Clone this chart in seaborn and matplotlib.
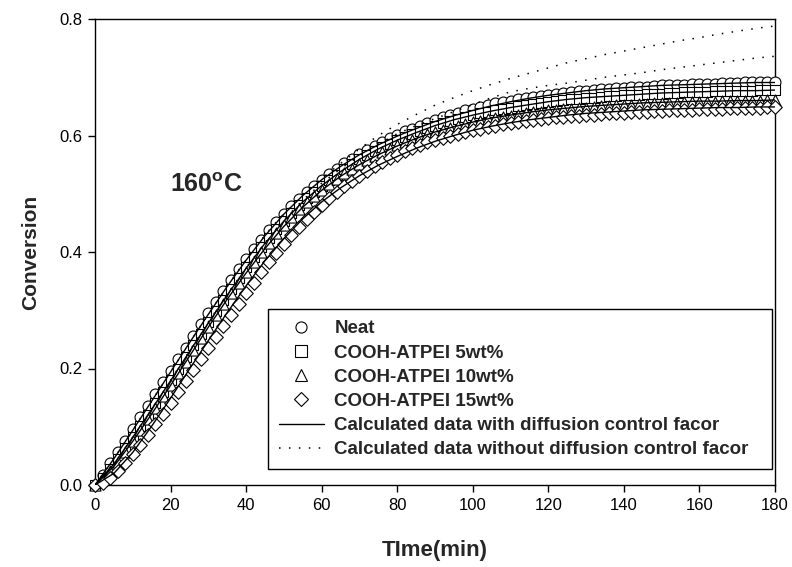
import numpy as np
import pandas as pd
import matplotlib
matplotlib.use("Agg")
import matplotlib.pyplot as plt
import seaborn as sns
from matplotlib.lines import Line2D

# ---------------- data ----------------
time_pts = list(range(0, 181, 2))
neat = [0.000, 0.018, 0.037, 0.056, 0.076, 0.096, 0.116, 0.136, 0.156, 0.176,
        0.196, 0.216, 0.236, 0.256, 0.276, 0.295, 0.314, 0.333, 0.352, 0.370,
        0.388, 0.405, 0.421, 0.437, 0.452, 0.466, 0.479, 0.491, 0.503, 0.514,
        0.524, 0.534, 0.543, 0.552, 0.560, 0.568, 0.575, 0.582, 0.589, 0.595,
        0.601, 0.607, 0.612, 0.617, 0.622, 0.627, 0.631, 0.635, 0.639, 0.643,
        0.646, 0.649, 0.652, 0.655, 0.658, 0.660, 0.662, 0.664, 0.666, 0.668,
        0.670, 0.672, 0.673, 0.675, 0.676, 0.677, 0.678, 0.679, 0.680, 0.681,
        0.682, 0.683, 0.684, 0.684, 0.685, 0.686, 0.686, 0.687, 0.687, 0.688,
        0.688, 0.689, 0.689, 0.690, 0.690, 0.690, 0.691, 0.691, 0.691, 0.692,
        0.692]
wt5 = [0.000, 0.012, 0.028, 0.045, 0.063, 0.082, 0.101, 0.120, 0.140, 0.160,
       0.180, 0.200, 0.220, 0.240, 0.260, 0.280, 0.299, 0.318, 0.337, 0.356,
       0.374, 0.391, 0.408, 0.424, 0.439, 0.454, 0.467, 0.480, 0.492, 0.503,
       0.514, 0.524, 0.533, 0.542, 0.551, 0.559, 0.566, 0.573, 0.580, 0.586,
       0.592, 0.598, 0.603, 0.608, 0.613, 0.617, 0.621, 0.625, 0.629, 0.632,
       0.635, 0.638, 0.641, 0.644, 0.646, 0.648, 0.650, 0.652, 0.654, 0.656,
       0.658, 0.659, 0.661, 0.662, 0.663, 0.664, 0.665, 0.666, 0.667, 0.668,
       0.669, 0.670, 0.670, 0.671, 0.672, 0.672, 0.673, 0.673, 0.674, 0.674,
       0.675, 0.675, 0.676, 0.676, 0.676, 0.677, 0.677, 0.677, 0.678, 0.678,
       0.678]
wt10 = [0.000, 0.010, 0.024, 0.040, 0.057, 0.075, 0.094, 0.113, 0.132, 0.152,
        0.172, 0.192, 0.212, 0.232, 0.252, 0.272, 0.291, 0.310, 0.329, 0.347,
        0.365, 0.383, 0.400, 0.416, 0.432, 0.446, 0.460, 0.473, 0.485, 0.496,
        0.507, 0.517, 0.526, 0.535, 0.543, 0.551, 0.558, 0.565, 0.571, 0.577,
        0.583, 0.588, 0.593, 0.598, 0.602, 0.606, 0.610, 0.613, 0.617, 0.620,
        0.623, 0.625, 0.628, 0.630, 0.632, 0.634, 0.636, 0.638, 0.640, 0.641,
        0.643, 0.644, 0.645, 0.646, 0.647, 0.648, 0.649, 0.650, 0.651, 0.652,
        0.652, 0.653, 0.654, 0.654, 0.655, 0.655, 0.656, 0.656, 0.657, 0.657,
        0.658, 0.658, 0.658, 0.659, 0.659, 0.659, 0.660, 0.660, 0.660, 0.661,
        0.661]
wt15 = [0.000, 0.004, 0.012, 0.024, 0.038, 0.053, 0.069, 0.086, 0.104, 0.122,
        0.140, 0.159, 0.178, 0.197, 0.216, 0.235, 0.254, 0.273, 0.292, 0.311,
        0.329, 0.347, 0.365, 0.382, 0.398, 0.414, 0.429, 0.443, 0.456, 0.469,
        0.481, 0.492, 0.503, 0.513, 0.522, 0.531, 0.539, 0.547, 0.554, 0.561,
        0.567, 0.573, 0.578, 0.583, 0.588, 0.592, 0.596, 0.600, 0.603, 0.606,
        0.609, 0.612, 0.615, 0.617, 0.619, 0.621, 0.623, 0.625, 0.627, 0.628,
        0.630, 0.631, 0.632, 0.633, 0.634, 0.635, 0.636, 0.637, 0.638, 0.639,
        0.639, 0.640, 0.641, 0.641, 0.642, 0.642, 0.643, 0.643, 0.644, 0.644,
        0.645, 0.645, 0.646, 0.646, 0.647, 0.647, 0.647, 0.648, 0.648, 0.649,
        0.649]

time_fit = list(range(0, 181, 5))
fit_neat = [0.000, 0.045, 0.094, 0.144, 0.194, 0.244, 0.293, 0.341, 0.386, 0.428,
            0.465, 0.497, 0.524, 0.547, 0.567, 0.584, 0.599, 0.612, 0.624, 0.634,
            0.643, 0.651, 0.658, 0.664, 0.669, 0.673, 0.677, 0.680, 0.682, 0.684,
            0.686, 0.687, 0.688, 0.689, 0.690, 0.691, 0.691]
fit_wt5 = [0.000, 0.036, 0.082, 0.130, 0.179, 0.229, 0.278, 0.326, 0.372, 0.415,
           0.453, 0.486, 0.514, 0.538, 0.559, 0.577, 0.592, 0.605, 0.617, 0.627,
           0.635, 0.642, 0.648, 0.653, 0.658, 0.662, 0.665, 0.667, 0.669, 0.671,
           0.673, 0.674, 0.675, 0.676, 0.677, 0.677, 0.678]
fit_wt10 = [0.000, 0.032, 0.075, 0.122, 0.171, 0.221, 0.271, 0.319, 0.364, 0.406,
            0.444, 0.477, 0.506, 0.530, 0.550, 0.567, 0.582, 0.595, 0.606, 0.615,
            0.623, 0.630, 0.635, 0.640, 0.644, 0.647, 0.650, 0.652, 0.654, 0.656,
            0.657, 0.658, 0.659, 0.659, 0.660, 0.660, 0.661]
fit_wt15 = [0.000, 0.020, 0.056, 0.101, 0.149, 0.199, 0.248, 0.296, 0.342, 0.385,
            0.423, 0.457, 0.486, 0.510, 0.531, 0.549, 0.564, 0.578, 0.590, 0.600,
            0.609, 0.616, 0.622, 0.627, 0.631, 0.635, 0.638, 0.640, 0.642, 0.644,
            0.645, 0.646, 0.647, 0.648, 0.648, 0.649, 0.649]
nodiff_a = [0.000, 0.045, 0.094, 0.144, 0.194, 0.244, 0.293, 0.341, 0.387, 0.429,
            0.466, 0.498, 0.526, 0.552, 0.577, 0.600, 0.619, 0.636, 0.652, 0.665,
            0.677, 0.688, 0.698, 0.707, 0.716, 0.725, 0.732, 0.739, 0.745, 0.751,
            0.757, 0.763, 0.768, 0.774, 0.779, 0.784, 0.788]
nodiff_b = [0.000, 0.036, 0.082, 0.130, 0.180, 0.230, 0.280, 0.327, 0.373, 0.416,
            0.455, 0.489, 0.518, 0.543, 0.565, 0.585, 0.603, 0.617, 0.629, 0.641,
            0.653, 0.665, 0.675, 0.681, 0.686, 0.690, 0.695, 0.700, 0.704, 0.708,
            0.713, 0.717, 0.721, 0.725, 0.729, 0.733, 0.736]

series_labels = ["Neat", "COOH-ATPEI 5wt%", "COOH-ATPEI 10wt%", "COOH-ATPEI 15wt%"]
line_labels = ["Calculated data with diffusion control facor",
               "Calculated data without diffusion control facor"]
x_ticks = [0, 20, 40, 60, 80, 100, 120, 140, 160, 180]
y_ticks = [0.0, 0.2, 0.4, 0.6, 0.8]
temp_label = r"$\mathbf{160^{o}C}$"

# ---------------- style ----------------
sns.set_style("ticks")
plt.rcParams["font.family"] = ["Liberation Sans", "DejaVu Sans"]
plt.rcParams["mathtext.fontset"] = "custom"
plt.rcParams["mathtext.bf"] = "Liberation Sans:bold"
plt.rcParams["mathtext.rm"] = "Liberation Sans"

fig = plt.figure(figsize=(7.92, 5.67), dpi=100)
ax = fig.add_axes([95 / 792, 1 - 485 / 567, 680 / 792, 466 / 567])

dot_style = (0, (1, 5.5))
markers = ["o", "s", "^", "D"]
sizes = [62, 55, 64, 48]
for vals, mk, sz in zip([neat, wt5, wt10, wt15], markers, sizes):
    df = pd.DataFrame({"t": time_pts, "c": vals})
    sns.scatterplot(data=df, x="t", y="c", marker=mk, s=sz, facecolor="white",
                    edgecolor="black", linewidth=0.8, ax=ax, zorder=3,
                    clip_on=False)

for vals in [fit_neat, fit_wt5, fit_wt10, fit_wt15]:
    df = pd.DataFrame({"t": time_fit, "c": vals})
    sns.lineplot(data=df, x="t", y="c", color="black", linewidth=1.0,
                 estimator=None, ax=ax, zorder=4)
for vals in [nodiff_a, nodiff_b]:
    df = pd.DataFrame({"t": time_fit, "c": vals})
    sns.lineplot(data=df, x="t", y="c", color="black", linewidth=1.1,
                 linestyle=dot_style, estimator=None, ax=ax, zorder=4)

ax.set_xlim(0, 180)
ax.set_ylim(0, 0.8)
ax.set_xticks(x_ticks)
ax.set_yticks(y_ticks)
ax.set_yticklabels([f"{v:.1f}" for v in y_ticks])
ax.tick_params(direction="out", length=5, width=1, labelsize=12, colors="black",
               pad=4)
for sp in ax.spines.values():
    sp.set_visible(True)
    sp.set_linewidth(1.0)
    sp.set_color("black")

ax.set_xlabel("TIme(min)", fontsize=16, fontweight="bold")
ax.set_ylabel("Conversion", fontsize=15, fontweight="bold")
ax.xaxis.set_label_coords(0.5, -0.118)
ax.yaxis.set_label_coords(-0.08, 0.5)

ax.text(19.8, 0.503, temp_label, fontsize=18, ha="left", va="baseline")

handles = [Line2D([], [], linestyle="none", marker=m, markersize=8,
                  markerfacecolor="white", markeredgecolor="black",
                  markeredgewidth=0.8)
           for m in ["o", "s", "^", "D"]]
handles[3].set_markersize(7)
handles += [Line2D([], [], color="black", linewidth=1.0),
            Line2D([], [], color="black", linewidth=1.1, linestyle=dot_style)]
leg = ax.legend(handles, series_labels + line_labels, loc="upper left",
                bbox_to_anchor=(0.254, 0.0, 0.742, 0.3777), mode="expand",
                frameon=True, fancybox=False,
                edgecolor="black", framealpha=1, borderaxespad=0,
                handlelength=2.4, handletextpad=0.55, labelspacing=0.376,
                borderpad=0.6, prop={"weight": "bold", "size": 13.5})
leg.get_frame().set_linewidth(1.0)
leg.set_zorder(10)

fig.savefig("out.png", dpi=100)
